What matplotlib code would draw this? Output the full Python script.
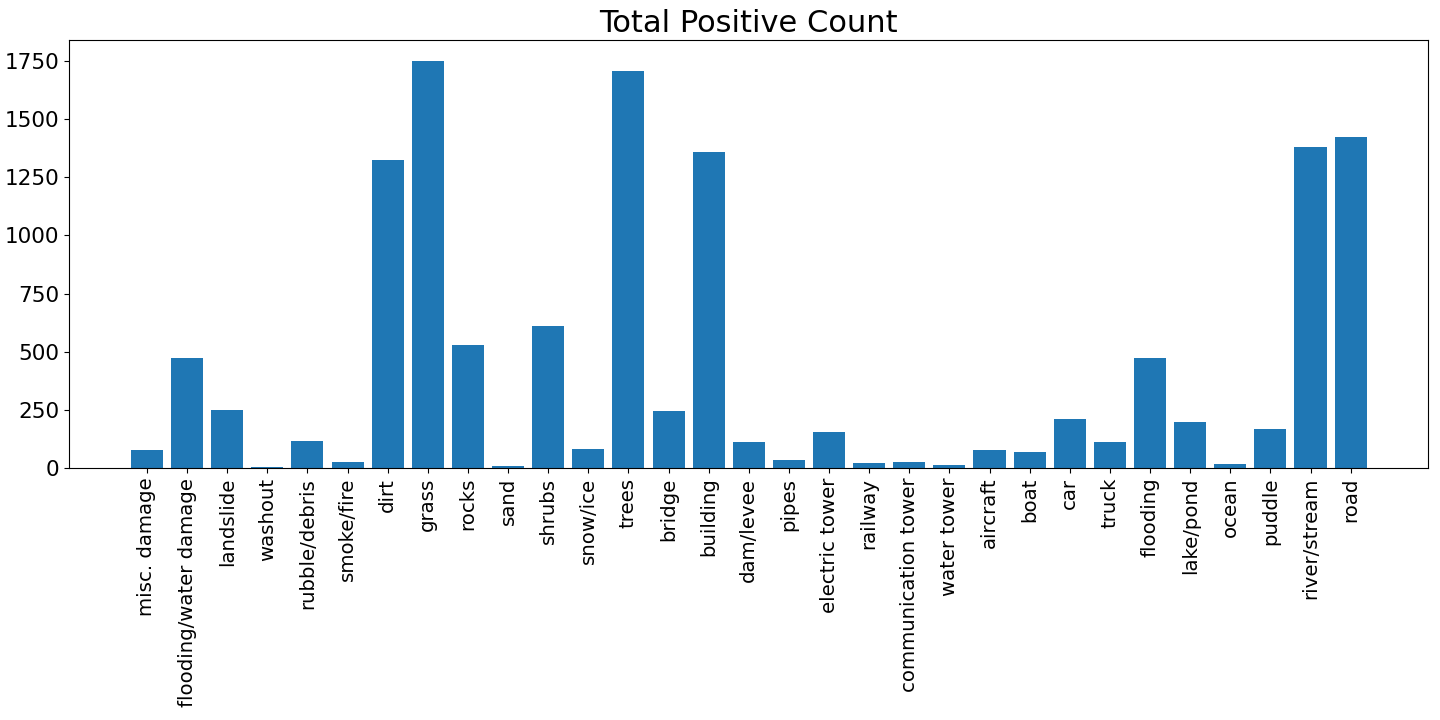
import matplotlib
matplotlib.use('Agg')
import matplotlib.pyplot as plt

labels = ['misc. damage', 'flooding/water damage', 'landslide', 'washout',
          'rubble/debris', 'smoke/fire', 'dirt', 'grass', 'rocks', 'sand',
          'shrubs', 'snow/ice', 'trees', 'bridge', 'building', 'dam/levee',
          'pipes', 'electric tower', 'railway', 'communication tower',
          'water tower', 'aircraft', 'boat', 'car', 'truck', 'flooding',
          'lake/pond', 'ocean', 'puddle', 'river/stream', 'road']
counts = [78, 471, 249, 5, 117, 27, 1322, 1751, 527, 9, 612, 83, 1708, 245,
          1357, 112, 35, 155, 22, 27, 14, 78, 70, 211, 112, 475, 197, 18,
          168, 1382, 1421]

fig = plt.figure(figsize=(14.4, 7.2), dpi=100)
ax = fig.add_subplot(111)
ax.bar(range(len(labels)), counts, color='#1f77b4')
ax.set_xticks(range(len(labels)))
ax.set_xticklabels(labels, rotation=90, fontsize=14.2)
ax.tick_params(axis='y', labelsize=15.5)
ax.set_title('Total Positive Count', fontsize=22)
fig.subplots_adjust(left=0.048, right=0.992, top=0.944, bottom=0.35)
plt.savefig('out.png', dpi=100)
